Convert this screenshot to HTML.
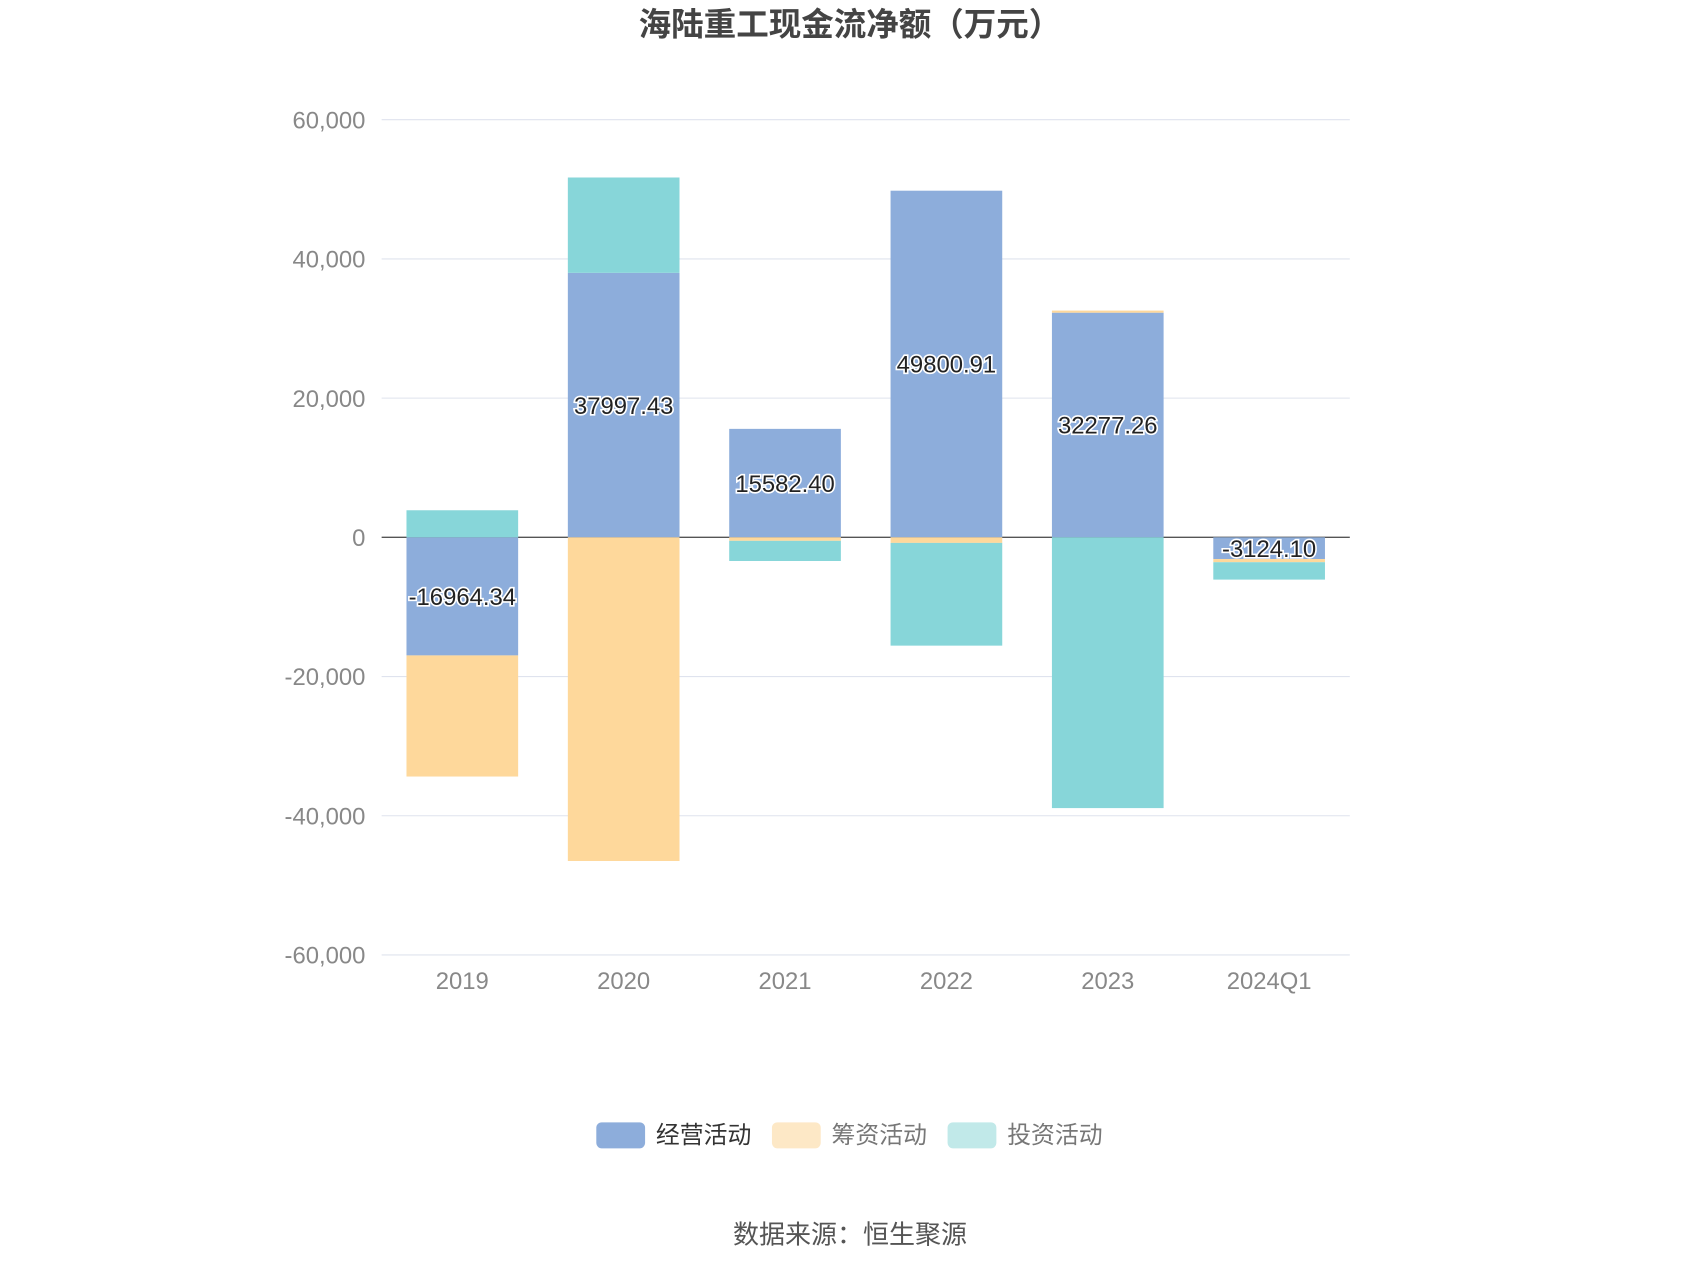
<!DOCTYPE html>
<html><head><meta charset="utf-8"><style>
html,body{margin:0;padding:0;background:#fff;}
svg{display:block;font-family:"Liberation Sans","Noto Sans CJK SC",sans-serif;}
</style></head><body>
<svg id="chart" width="1700" height="1274" viewBox="0 0 1568 1176" preserveAspectRatio="none" xmlns="http://www.w3.org/2000/svg">
<text x="784" y="33" text-anchor="middle" font-size="30" font-weight="bold" fill="#444">海陆重工现金流净额（万元）</text>
<g id="grid"></g><g id="bars"></g><g id="labels"></g>
<g>
<g><rect x="550" y="1036" width="45" height="24" rx="5" fill="#8daddb"/><text x="605" y="1055" font-size="22" fill="#333">经营活动</text></g>
<g><rect x="712" y="1036" width="45" height="24" rx="5" fill="#fde8c6"/><text x="767" y="1055" font-size="22" fill="#777">筹资活动</text></g>
<g><rect x="874" y="1036" width="45" height="24" rx="5" fill="#c1e9e9"/><text x="929" y="1055" font-size="22" fill="#777">投资活动</text></g>
</g>
<text x="784" y="1148" text-anchor="middle" font-size="24" fill="#555">数据来源：恒生聚源</text>
</svg>
<script>
const categories=["2019","2020","2021","2022","2023","2024Q1"];
const operating=[-16964.34,37997.43,15582.40,49800.91,32277.26,-3124.10];
const financing=[-17400,-46500,-500,-800,300,-450];
const investing=[3890,13700,-2900,-14760,-38900,-2500];
const yTicks=[60000,40000,20000,0,-20000,-40000,-60000];
const NS="http://www.w3.org/2000/svg";
const x0=352,x1=1245,y0=496,k=771/120000;
const y=v=>y0-v*k;
const band=(x1-x0)/categories.length;
const xc=i=>x0+band*(i+0.5);
function mk(t,a,p){const e=document.createElementNS(NS,t);for(const q in a)e.setAttribute(q,a[q]);p.appendChild(e);return e;}
const grid=document.getElementById('grid');
yTicks.forEach(v=>{
 const l=mk('line',{x1:x0,x2:x1,y1:y(v),y2:y(v),stroke:v===0?'#555':'#dfe3ee','stroke-width':v===0?1.2:1},grid);
 
 
 const t=mk('text',{x:337,y:y(v)+8,'text-anchor':'end','font-size':22,fill:'#888'},grid);
 t.textContent=v.toLocaleString('en-US');
 
 
});
categories.forEach((c,i)=>{
 const t=mk('text',{x:xc(i),y:913,'text-anchor':'middle','font-size':22,fill:'#888'},grid);
 t.textContent=c;
 
 
});
const bars=document.getElementById('bars'),labels=document.getElementById('labels');
const series=[[operating,'#8daddb','operating'],[financing,'#fed89b','financing'],[investing,'#87d6d9','investing']];
categories.forEach((c,i)=>{
 let pos=0,neg=0;
 series.forEach(([arr,col,nm])=>{
  const v=arr[i];let a,b;
  if(v>=0){a=pos;b=pos+v;pos=b;}else{a=neg;b=neg+v;neg=b;}
  const top=Math.min(y(a),y(b)),h=Math.abs(y(a)-y(b));
  const r=mk('rect',{x:xc(i)-51.5,y:top,width:103,height:h,fill:col},bars);
  
  
  if(nm==='operating'){
   const t=mk('text',{x:xc(i),y:top+h/2+8,'text-anchor':'middle','font-size':22,fill:'#222',stroke:'#fff','stroke-width':3,'paint-order':'stroke'},labels);
   t.textContent=v.toFixed(2);
   
   
  }
 });
});
</script>
</body></html>
